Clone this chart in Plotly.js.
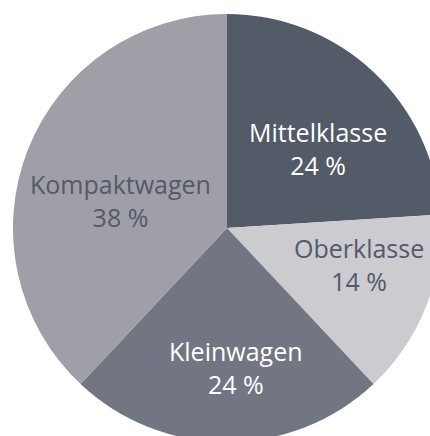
<!DOCTYPE html>
<html>
<head>
<meta charset="utf-8">
<script src="https://cdn.plot.ly/plotly-3.0.1.min.js"></script>
<style>
html, body { margin:0; padding:0; overflow:hidden; width:430px; height:436px; background:#fff; }
#chart { position:absolute; left:13px; top:14px; width:428px; height:428px; }
</style>
</head>
<body>
<div id="chart"></div>
<script>
const categories = ["Mittelklasse", "Oberklasse", "Kleinwagen", "Kompaktwagen"];
const shares = [24, 14, 24, 38];
const sliceColors = ["#535a68", "#cccbd0", "#727682", "#a09fa8"];
const textColors = ["#ffffff", "#535a68", "#ffffff", "#535a68"];
// label anchor positions (paper fraction) for each slice
const labelX = [0.7126, 0.8084, 0.5210, 0.2500];
const labelY = [0.6846, 0.4136, 0.1752, 0.5654];

const annotations = categories.map((c, i) => ({
  xref: "paper", yref: "paper",
  x: labelX[i], y: labelY[i],
  xanchor: "center", yanchor: "middle",
  text: c + "<br>" + shares[i] + " %",
  showarrow: false,
  font: { family: "Open Sans", size: 25, color: textColors[i] }
}));

Plotly.newPlot("chart", [{
  type: "pie",
  labels: categories,
  values: shares,
  sort: false,
  direction: "clockwise",
  rotation: 0,
  marker: { colors: sliceColors, line: { width: 0 } },
  textinfo: "none",
  hoverinfo: "none"
}], {
  width: 428, height: 428,
  margin: { l: 0, r: 0, t: 0, b: 0 },
  showlegend: false,
  paper_bgcolor: "rgba(0,0,0,0)",
  annotations: annotations
}, { displayModeBar: false, staticPlot: true });
</script>
</body>
</html>
